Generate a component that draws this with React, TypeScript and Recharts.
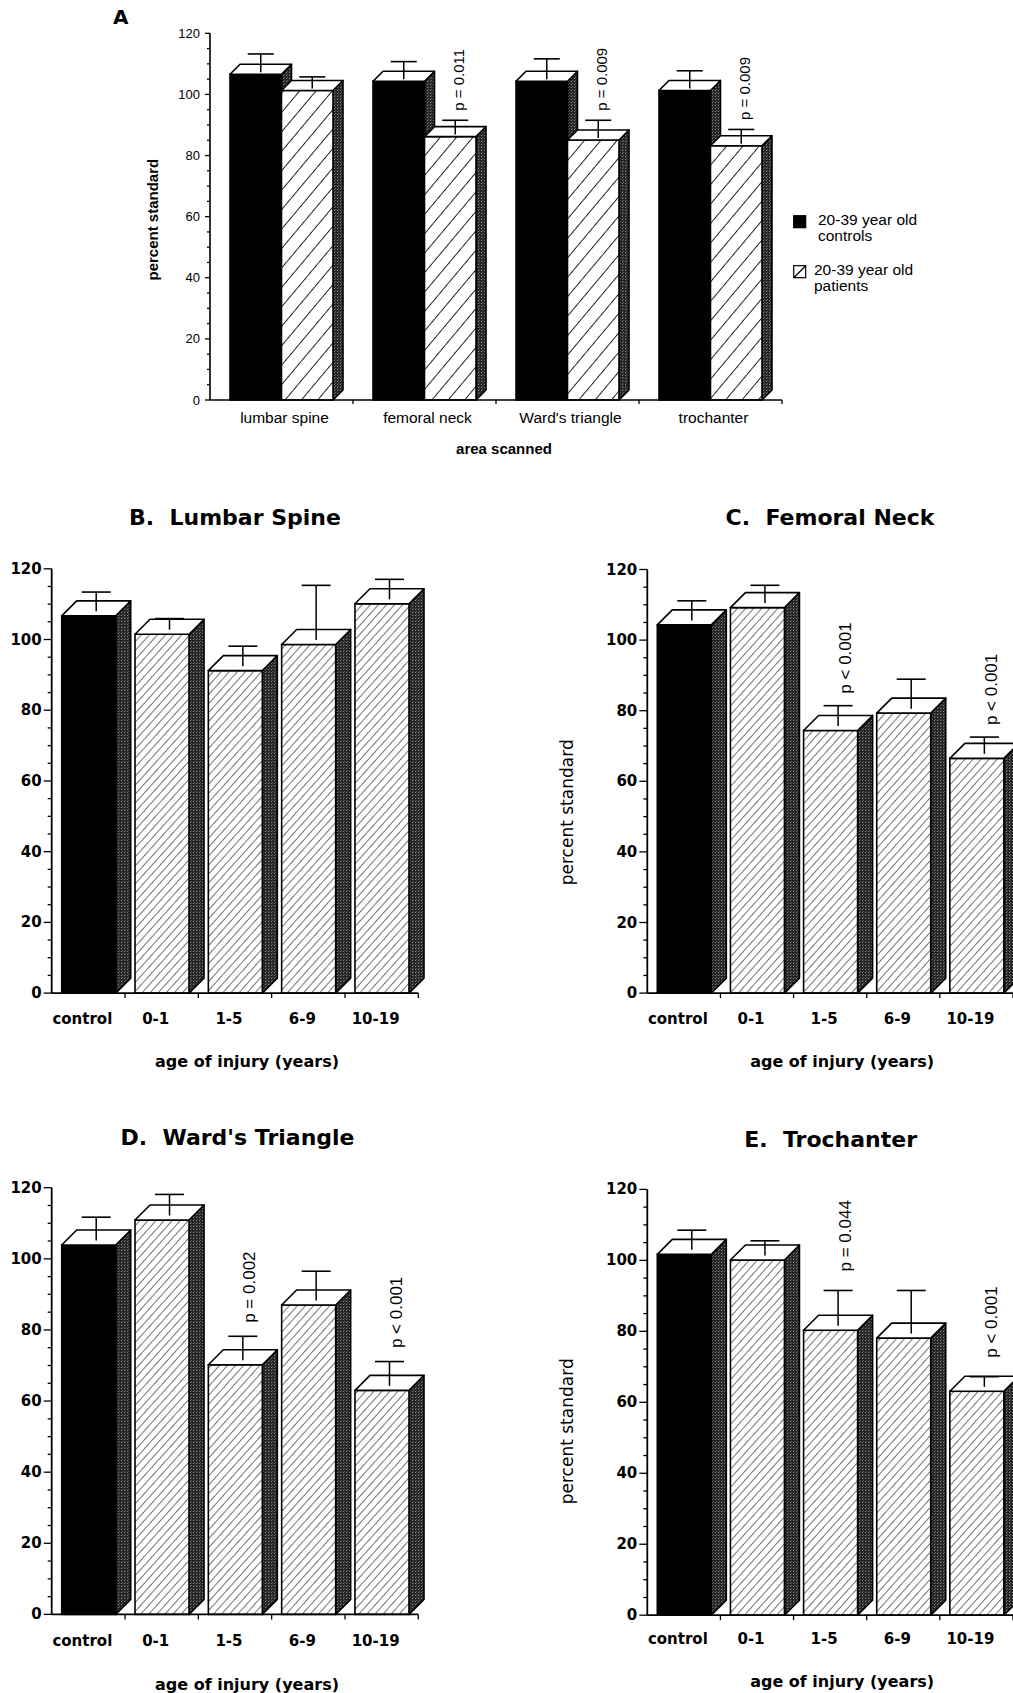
import React from "react";
import { BarChart, Bar, XAxis, YAxis, Legend, Label } from "recharts";

// Panel A: 20-39 year olds, by area scanned
const areaNames = ["lumbar spine", "femoral neck", "Ward's triangle", "trochanter"];
const controlMeans = [106.6, 104.3, 104.3, 101.3];
const controlErrs = [5.0, 4.8, 5.7, 4.8];
const patientMeans = [101.3, 86.2, 85.1, 83.2];
const patientErrs = [2.8, 3.7, 4.8, 3.7];
const patientPs = ["", "p = 0.011", "p = 0.009", "p = 0.009"];
const legendLines = [
  ["20-39 year old", "controls"],
  ["20-39 year old", "patients"],
];

// Panels B-E: by age of injury
const injuryGroups = ["control", "0-1", "1-5", "6-9", "10-19"];

const spineMeans = [106.7, 101.5, 91.2, 98.6, 110.1];
const spineErrs = [4.6, 2.3, 4.8, 14.6, 4.8];
const spinePs = ["", "", "", "", ""];

const neckMeans = [104.3, 109.2, 74.4, 79.3, 66.5];
const neckErrs = [4.7, 4.2, 4.9, 7.5, 3.9];
const neckPs = ["", "", "p < 0.001", "", "p < 0.001"];

const wardMeans = [103.9, 110.9, 70.2, 87.0, 63.0];
const wardErrs = [5.7, 5.1, 5.9, 7.4, 6.0];
const wardPs = ["", "", "p = 0.002", "", "p < 0.001"];

const trochMeans = [101.7, 100.1, 80.3, 78.1, 63.1];
const trochErrs = [4.7, 3.3, 9.1, 11.3, 2.0];
const trochPs = ["", "", "p = 0.044", "", "p < 0.001"];

const yTicks = [0, 5, 10, 15, 20, 25, 30, 35, 40, 45, 50, 55, 60, 65, 70, 75, 80, 85, 90, 95, 100, 105, 110, 115, 120];

const SANS = "'Liberation Sans', Arial, sans-serif";
const WIDE = "'DejaVu Sans', sans-serif";

interface BoxLook {
  depth: number;
  cap: number;
  pdx: number;
  pgap: number;
  pSize: number;
  hatch: string;
}

// one 3D box: front face, right side, top face, error bar, p label
const Box3D = (props: any) => {
  const { x, y, width: w, height: h, payload, valueKey, errKey, pKey, solid, look } = props;
  const value = payload[valueKey];
  if (!h || !value) return null;
  const d = look.depth;
  const ppu = h / value;
  const err = payload[errKey];
  const p = pKey ? payload[pKey] : "";
  const cx = x + w / 2 + d / 2;
  const yMid = y - d / 2;
  const yErr = yMid - err * ppu;
  const sw = 1.6;
  return (
    <g>
      <polygon
        points={`${x + w},${y} ${x + w + d},${y - d} ${x + w + d},${y + h - d} ${x + w},${y + h}`}
        fill="url(#sideTex)"
        stroke="#000"
        strokeWidth={sw}
        strokeLinejoin="round"
      />
      <rect x={x} y={y} width={w} height={h} fill={solid ? "#000" : `url(#${look.hatch})`} stroke="#000" strokeWidth={sw} />
      <polygon
        points={`${x},${y} ${x + d},${y - d} ${x + w + d},${y - d} ${x + w},${y}`}
        fill="#fff"
        stroke="#000"
        strokeWidth={sw}
        strokeLinejoin="round"
      />
      <line x1={cx} x2={cx} y1={yMid + 3} y2={yErr} stroke="#000" strokeWidth={1.5} />
      <line x1={cx - look.cap / 2} x2={cx + look.cap / 2} y1={yErr} y2={yErr} stroke="#000" strokeWidth={1.6} />
      {p ? (
        <text
          x={cx + look.pdx}
          y={yErr - look.pgap}
          transform={`rotate(-90 ${cx + look.pdx} ${yErr - look.pgap})`}
          textAnchor="start"
          dominantBaseline="central"
          fontFamily={SANS}
          fontSize={look.pSize}
          fill="#000"
        >
          {p}
        </text>
      ) : null}
    </g>
  );
};

const YTick = (props: any) => {
  const { x, y, payload, major, minor, font, size, weight } = props;
  const isMajor = payload.value % 20 === 0;
  return (
    <g>
      <line x1={x - (isMajor ? major : minor)} x2={x} y1={y} y2={y} stroke="#000" strokeWidth={1.3} />
      {isMajor ? (
        <text x={x - 10} y={y} textAnchor="end" dominantBaseline="central" fontFamily={font} fontSize={size} fontWeight={weight} fill="#000">
          {payload.value}
        </text>
      ) : null}
    </g>
  );
};

const XTick = (props: any) => {
  const { x, y, payload, band, lx, ly, font, size, weight, len } = props;
  return (
    <g>
      <line x1={x + band / 2} x2={x + band / 2} y1={y} y2={y + len} stroke="#000" strokeWidth={1.3} />
      <text x={x + lx} y={y + ly} textAnchor="middle" dominantBaseline="central" fontFamily={font} fontSize={size} fontWeight={weight} fill="#000">
        {payload.value}
      </text>
    </g>
  );
};

const Patterns = () => (
  <svg width={0} height={0} style={{ position: "absolute" }}>
    <defs>
      <pattern id="hatchWide" width={12.5} height={12.5} patternUnits="userSpaceOnUse" patternTransform="rotate(40)">
        <rect width={12.5} height={12.5} fill="#fff" />
        <line x1={0} y1={0} x2={0} y2={12.5} stroke="#000" strokeWidth={1.7} />
      </pattern>
      <pattern id="hatchFine" width={6} height={6} patternUnits="userSpaceOnUse" patternTransform="rotate(42)">
        <rect width={6} height={6} fill="#fff" />
        <line x1={0} y1={0} x2={0} y2={6} stroke="#000" strokeWidth={1.1} />
      </pattern>
      <pattern id="sideTex" width={3} height={3} patternUnits="userSpaceOnUse">
        <rect width={3} height={3} fill="#242424" />
        <rect x={1} y={0} width={1} height={1} fill="#8c8c8c" />
        <rect x={2} y={2} width={1} height={1} fill="#5a5a5a" />
      </pattern>
    </defs>
  </svg>
);

const areaRows = areaNames.map((name, i) => ({
  name,
  ctrl: controlMeans[i],
  ctrlErr: controlErrs[i],
  pat: patientMeans[i],
  patErr: patientErrs[i],
  patP: patientPs[i],
}));

const lookA: BoxLook = { depth: 10, cap: 26, pdx: 3, pgap: 9.5, pSize: 15, hatch: "hatchWide" };
const lookB: BoxLook = { depth: 15, cap: 29, pdx: 7, pgap: 13, pSize: 17, hatch: "hatchFine" };

const renderLegend = (props: any) => {
  const { payload } = props;
  return (
    <div style={{ position: "relative", width: 220, height: 100, fontFamily: SANS, fontSize: 15.5, color: "#000" }}>
      {(payload || []).map((entry: any, i: number) => {
        const top = i * 50;
        const tx = i === 0 ? 27 : 23;
        return (
          <div key={entry.value} style={{ position: "absolute", left: 0, top }}>
            <svg width={14} height={14} style={{ position: "absolute", left: 2, top: 9 }}>
              <rect x={0.7} y={0.7} width={12} height={12} fill={i === 0 ? "#000" : "#fff"} stroke="#000" strokeWidth={1.2} />
              {i === 1 ? <line x1={1} y1={12.5} x2={12.5} y2={1} stroke="#000" strokeWidth={1.2} /> : null}
            </svg>
            <div style={{ position: "absolute", left: tx, top: 6, lineHeight: "16px", whiteSpace: "nowrap" }}>
              {legendLines[i][0]}
            </div>
            <div style={{ position: "absolute", left: tx, top: 22, lineHeight: "16px", whiteSpace: "nowrap" }}>
              {legendLines[i][1]}
            </div>
          </div>
        );
      })}
    </div>
  );
};

const PanelA = () => {
  const band = (782 - 210) / areaNames.length;
  return (
    <div style={{ position: "absolute", left: 0, top: 0 }}>
      <BarChart
        width={1013}
        height={470}
        data={areaRows}
        margin={{ top: 33.3, right: 231, bottom: 30, left: 150 }}
        barGap={0}
        barSize={51.5}
      >
        <XAxis
          dataKey="name"
          height={40}
          interval={0}
          tickSize={0}
          tickMargin={0}
          tickLine={false}
          axisLine={{ stroke: "#000", strokeWidth: 1.6 }}
          tick={(p: any) => <XTick {...p} band={band} lx={3} ly={17.7} font={SANS} size={15.5} weight="normal" len={4} />}
        >
          <Label
            content={(lp: any) => {
              const vb = lp.viewBox;
              return (
                <text x={vb.x + vb.width / 2 + 8} y={vb.y + 48.3} textAnchor="middle" dominantBaseline="central" fontFamily={SANS} fontWeight="bold" fontSize={15} fill="#000">
                  area scanned
                </text>
              );
            }}
          />
        </XAxis>
        <YAxis
          type="number"
          domain={[0, 120]}
          ticks={yTicks}
          interval={0}
          width={60}
          tickSize={0}
          tickMargin={0}
          tickLine={false}
          axisLine={{ stroke: "#000", strokeWidth: 1.6 }}
          tick={(p: any) => <YTick {...p} major={5} minor={3} font={SANS} size={13} weight="normal" />}
        >
          <Label
            content={(lp: any) => {
              const vb = lp.viewBox;
              const cx = vb.x + 2.6;
              const cy = vb.y + vb.height / 2 + 3;
              return (
                <text x={cx} y={cy} transform={`rotate(-90 ${cx} ${cy})`} textAnchor="middle" dominantBaseline="central" fontFamily={SANS} fontWeight="bold" fontSize={15} fill="#000">
                  percent standard
                </text>
              );
            }}
          />
        </YAxis>
        <Legend
          layout="vertical"
          align="center"
          verticalAlign="middle"
          content={renderLegend}
          wrapperStyle={{ left: 791, top: 206, width: 220, height: 100 }}
        />
        <Bar
          dataKey="ctrl"
          name={legendLines[0].join(" ")}
          fill="#000"
          isAnimationActive={false}
          shape={(p: any) => <Box3D {...p} valueKey="ctrl" errKey="ctrlErr" solid look={lookA} />}
        />
        <Bar
          dataKey="pat"
          name={legendLines[1].join(" ")}
          fill="#fff"
          isAnimationActive={false}
          shape={(p: any) => <Box3D {...p} valueKey="pat" errKey="patErr" pKey="patP" solid={false} look={lookA} />}
        />
      </BarChart>
      <div style={{ position: "absolute", left: 113, top: 5, fontFamily: WIDE, fontWeight: "bold", fontSize: 20, lineHeight: "24px" }}>A</div>
    </div>
  );
};

interface AgePanelProps {
  title: string;
  means: number[];
  errs: number[];
  ps: string[];
  left: number;
  top: number;
  width: number;
  height: number;
  margin: { top: number; right: number; bottom: number; left: number };
  yWidth: number;
  titleX: number;
  titleY: number;
  catDy: number;
  xLabelDy: number;
  yLabelDy?: number;
  pgap: number;
}

const AgePanel = (cfg: AgePanelProps) => {
  const rows = injuryGroups.map((g, i) => ({ group: g, mean: cfg.means[i], err: cfg.errs[i], p: cfg.ps[i], solid: i === 0 }));
  const plotW = cfg.width - cfg.margin.left - cfg.yWidth - cfg.margin.right;
  const band = plotW / injuryGroups.length;
  const look = { ...lookB, pgap: cfg.pgap };
  return (
    <>
      <div
        style={{
          position: "absolute",
          left: cfg.titleX - 200,
          top: cfg.titleY - 14,
          width: 400,
          textAlign: "center",
          fontFamily: WIDE,
          fontWeight: "bold",
          fontSize: 22,
          lineHeight: "28px",
          whiteSpace: "pre",
        }}
      >
        {cfg.title}
      </div>
      <div style={{ position: "absolute", left: cfg.left, top: cfg.top }}>
        <BarChart width={cfg.width} height={cfg.height} data={rows} margin={cfg.margin} barSize={54}>
          <XAxis
            dataKey="group"
            height={40}
            interval={0}
            tickSize={0}
            tickMargin={0}
            tickLine={false}
            axisLine={{ stroke: "#000", strokeWidth: 1.8 }}
            tick={(p: any) => <XTick {...p} band={band} lx={-6} ly={cfg.catDy} font={WIDE} size={15} weight="bold" len={5} />}
          >
            <Label
              content={(lp: any) => {
                const vb = lp.viewBox;
                return (
                  <text x={vb.x + vb.width / 2 + 12} y={vb.y + cfg.xLabelDy} textAnchor="middle" dominantBaseline="central" fontFamily={WIDE} fontWeight="bold" fontSize={16} fill="#000">
                    age of injury (years)
                  </text>
                );
              }}
            />
          </XAxis>
          <YAxis
            type="number"
            domain={[0, 120]}
            ticks={yTicks}
            interval={0}
            width={cfg.yWidth}
            tickSize={0}
            tickMargin={0}
            tickLine={false}
            axisLine={{ stroke: "#000", strokeWidth: 1.8 }}
            tick={(p: any) => <YTick {...p} major={8} minor={4} font={WIDE} size={15} weight="bold" />}
          >
            {cfg.yLabelDy !== undefined ? (
              <Label
                content={(lp: any) => {
                  const vb = lp.viewBox;
                  const cx = vb.x - 30.6;
                  const cy = vb.y + vb.height / 2 + (cfg.yLabelDy as number);
                  return (
                    <text x={cx} y={cy} transform={`rotate(-90 ${cx} ${cy})`} textAnchor="middle" dominantBaseline="central" fontFamily={WIDE} fontSize={17} fill="#000">
                      percent standard
                    </text>
                  );
                }}
              />
            ) : null}
          </YAxis>
          <Bar
            dataKey="mean"
            isAnimationActive={false}
            shape={(p: any) => <Box3D {...p} valueKey="mean" errKey="err" pKey="p" solid={p.payload.solid} look={look} />}
          />
        </BarChart>
      </div>
    </>
  );
};

export default function App() {
  return (
    <div style={{ position: "absolute", left: 0, top: 0, width: 1013, height: 1693, overflow: "hidden", background: "#fff" }}>
      <Patterns />
      <PanelA />
      <AgePanel
        title="B.  Lumbar Spine"
        means={spineMeans}
        errs={spineErrs}
        ps={spinePs}
        left={0}
        top={540}
        width={470}
        height={540}
        margin={{ top: 28.8, right: 51.7, bottom: 46.9, left: 0 }}
        yWidth={51.7}
        titleX={235}
        titleY={517.7}
        catDy={25.9}
        xLabelDy={68.5}
        pgap={13}
      />
      <AgePanel
        title="C.  Femoral Neck"
        means={neckMeans}
        errs={neckErrs}
        ps={neckPs}
        left={540}
        top={540}
        width={473}
        height={540}
        margin={{ top: 29.5, right: 0, bottom: 46.9, left: 57.3 }}
        yWidth={50}
        titleX={830}
        titleY={517.7}
        catDy={25.9}
        xLabelDy={68.5}
        yLabelDy={31}
        pgap={12}
      />
      <AgePanel
        title="D.  Ward's Triangle"
        means={wardMeans}
        errs={wardErrs}
        ps={wardPs}
        left={0}
        top={1160}
        width={470}
        height={533}
        margin={{ top: 27.7, right: 51.7, bottom: 38.6, left: 0 }}
        yWidth={51.7}
        titleX={237.5}
        titleY={1137.8}
        catDy={26.4}
        xLabelDy={69.9}
        pgap={13.5}
      />
      <AgePanel
        title="E.  Trochanter"
        means={trochMeans}
        errs={trochErrs}
        ps={trochPs}
        left={540}
        top={1160}
        width={473}
        height={533}
        margin={{ top: 29.4, right: 0, bottom: 37.8, left: 57.3 }}
        yWidth={50}
        titleX={830.7}
        titleY={1140.1}
        catDy={23.8}
        xLabelDy={65.8}
        yLabelDy={29}
        pgap={19}
      />
    </div>
  );
}
